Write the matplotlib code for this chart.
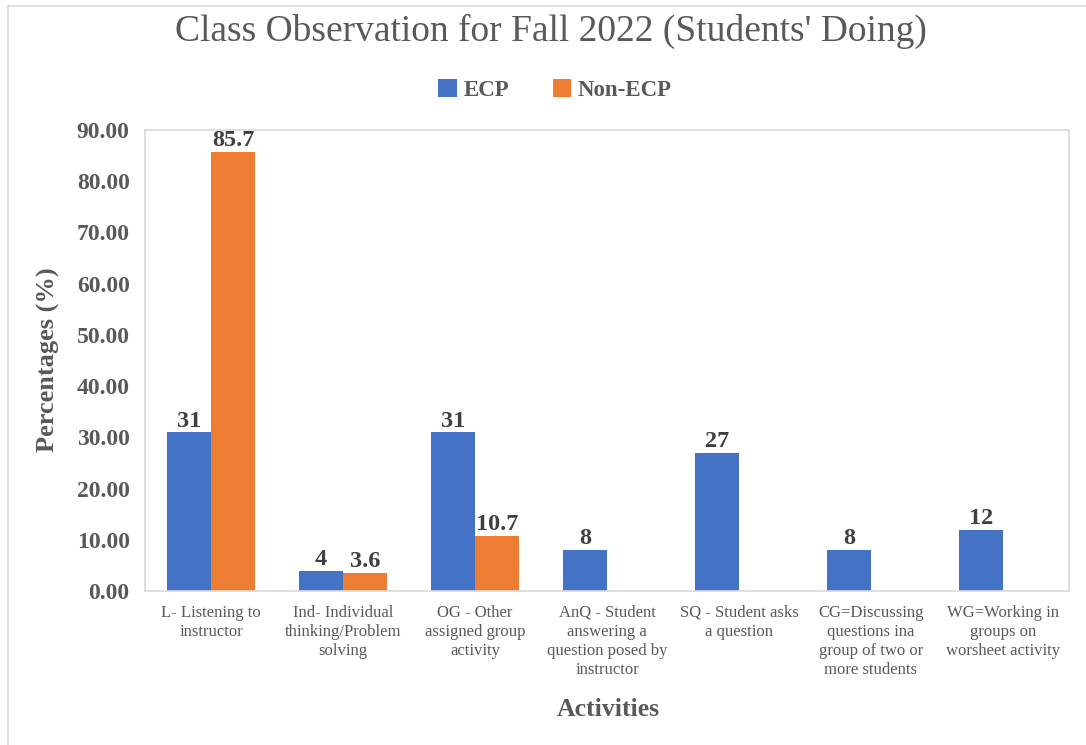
import numpy as np
import matplotlib
matplotlib.use("Agg")
import matplotlib.pyplot as plt
from matplotlib.lines import Line2D

activities = [
    "L- Listening to\ninstructor",
    "Ind- Individual\nthinking/Problem\nsolving",
    "OG - Other\nassigned group\nactivity",
    "AnQ - Student\nanswering a\nquestion posed by\ninstructor",
    "SQ - Student asks\na question",
    "CG=Discussing\nquestions ina\ngroup of two or\nmore students",
    "WG=Working in\ngroups on\nworsheet activity",
]
ecp = [31, 4, 31, 8, 27, 8, 12]
non_ecp = [85.7, 3.6, 10.7, 0, 0, 0, 0]
yticks = [0, 10, 20, 30, 40, 50, 60, 70, 80, 90]

blue = "#4472C4"
orange = "#ED7D31"
grey_txt = "#595959"
label_txt = "#404040"
frame = "#D9D9D9"

plt.rcParams['font.family'] = ['Liberation Serif', 'DejaVu Serif']

fig = plt.figure(figsize=(10.86, 7.45), dpi=100)
ax = fig.add_axes([145 / 1086, 1 - 591 / 745, 924 / 1086, 461 / 745])

x = np.arange(len(activities))
w = 1 / 3
b1 = ax.bar(x - w / 2, ecp, w, color=blue, label='ECP')
b2 = ax.bar(x + w / 2, non_ecp, w, color=orange, label='Non-ECP')

# value labels on top of non-empty bars
for bars, vals in ((b1, ecp), (b2, non_ecp)):
    for r, v in zip(bars, vals):
        if v <= 0:
            continue
        ax.annotate('{:g}'.format(v), (r.get_x() + r.get_width() / 2, v),
                    xytext=(0, 0.5), textcoords='offset points',
                    ha='center', va='bottom', fontsize=17.5,
                    fontweight='bold', color=label_txt)

ax.set_xlim(-0.5, len(activities) - 0.5)
ax.set_ylim(0, 90)
ax.set_yticks(yticks)
ax.set_yticklabels(['{:.2f}'.format(t) for t in yticks],
                   fontsize=17, fontweight='bold', color=grey_txt)
ax.set_xticks(x)
ax.set_xticklabels(activities, fontsize=12, color=grey_txt, linespacing=1.25)
ax.tick_params(axis='y', length=0, pad=11)
ax.tick_params(axis='x', length=0, pad=10)
for s in ax.spines.values():
    s.set_color(frame)
    s.set_linewidth(1.2)

fig.text(551 / 1086, 1 - 31 / 745, "Class Observation for Fall 2022 (Students' Doing)",
         ha='center', va='center', fontsize=27, color=grey_txt)
fig.text(48 / 1086, 1 - 360 / 745, "Percentages (%)", rotation=90,
         ha='center', va='center', fontsize=19, fontweight='bold', color=grey_txt)
fig.text(608 / 1086, 1 - 709 / 745, "Activities",
         ha='center', va='center', fontsize=18.5, fontweight='bold', color=grey_txt)

leg = fig.legend(loc='center', bbox_to_anchor=(555 / 1086, 1 - 90 / 745), ncol=2,
                 frameon=False, handlelength=0.8, handleheight=0.8,
                 handletextpad=0.3, columnspacing=1.9,
                 prop={'size': 16.5, 'weight': 'bold'})
for t in leg.get_texts():
    t.set_color(grey_txt)

# outer chart border
fig.add_artist(Line2D([8 / 1086, 8 / 1086], [0, 1 - 6 / 745],
                      transform=fig.transFigure, color=frame, lw=1.2))
fig.add_artist(Line2D([8 / 1086, 1], [1 - 6 / 745, 1 - 6 / 745],
                      transform=fig.transFigure, color=frame, lw=1.2))

fig.savefig('out.png', dpi=100)
